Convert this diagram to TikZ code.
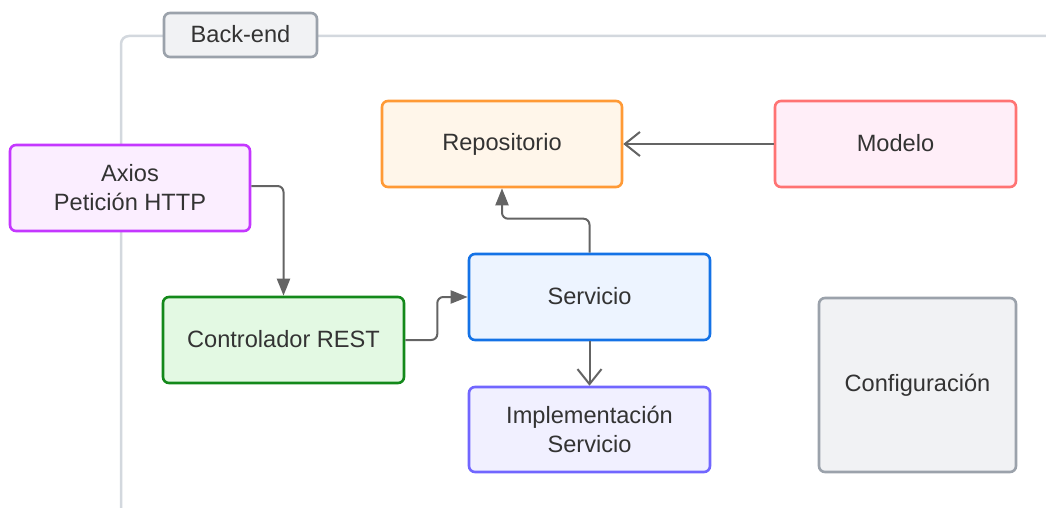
\documentclass[tikz,border=0pt]{standalone}
\usepackage{fontspec}
\setmainfont{Liberation Sans}
\usetikzlibrary{arrows.meta,calc}

\definecolor{framecol}{HTML}{D3D8DE}
\definecolor{grayb}{HTML}{9BA2AB}
\definecolor{grayf}{HTML}{F1F2F4}
\definecolor{orangeb}{HTML}{FF9A36}
\definecolor{orangef}{HTML}{FFF6EA}
\definecolor{pinkb}{HTML}{FF7373}
\definecolor{pinkf}{HTML}{FFEEF8}
\definecolor{purpleb}{HTML}{C437FF}
\definecolor{purplef}{HTML}{FBEEFF}
\definecolor{blueb}{HTML}{1472E6}
\definecolor{bluef}{HTML}{EDF4FF}
\definecolor{greenb}{HTML}{13891A}
\definecolor{greenf}{HTML}{E3F9E3}
\definecolor{indigob}{HTML}{7166FF}
\definecolor{indigof}{HTML}{F1F0FF}
\definecolor{arrowcol}{HTML}{646464}
\definecolor{txt}{HTML}{333333}

\tikzset{
  box/.style={draw, rounded corners=6pt, line width=2.6pt, align=center,
    text=txt, inner sep=0pt, minimum width=241pt, minimum height=86pt,
    font=\fontsize{23.6}{29}\selectfont},
  flow/.style={draw=arrowcol, line width=2pt, rounded corners=6pt,
    -{Triangle[length=17pt,width=13pt]}},
  link/.style={draw=arrowcol, line width=2pt,
    -{Straight Barb[length=15pt,width=24pt,line width=2pt]}},
}

\begin{document}
\begin{tikzpicture}[x=1pt,y=-1pt]
\useasboundingbox (0,0) rectangle (1046,508);

% container frame
\coordinate (fbot) at (121,508);
\coordinate (ftop) at (1046,36);
\draw[framecol, line width=2.5pt, rounded corners=8pt] (fbot) |- (ftop);

% container label
\node[box, draw=grayb, fill=grayf, minimum width=153pt, minimum height=44pt]
  (be) at (240.5,35) {\raisebox{2pt}{Back-end}};

% components
\node[box, draw=orangeb, fill=orangef, minimum width=240pt] (repo) at (502,144) {\raisebox{2pt}{Repositorio}};
\node[box, draw=pinkb, fill=pinkf] (mod) at (895.5,144) {\raisebox{2pt}{Modelo}};
\node[box, draw=purpleb, fill=purplef, minimum width=240pt] (ax) at (130,188) {Axios\\Petición HTTP};
\node[box, draw=blueb, fill=bluef] (svc) at (589.5,297) {\raisebox{2pt}{Servicio}};
\node[box, draw=greenb, fill=greenf] (ctl) at (283.5,340) {\raisebox{2pt}{Controlador REST}};
\node[box, draw=indigob, fill=indigof, minimum height=85pt] (impl) at (589.5,429.5) {Implementación\\Servicio};
\node[box, draw=grayb, fill=grayf, minimum width=197pt, minimum height=174pt] (cfg) at (917.5,385) {\raisebox{2pt}{Configuración}};

% connectors
\draw[flow] ($(ax.east)+(0,-2)$) -| (ctl.north);
\draw[flow] (ctl.east) -- ++(32,0) |- (svc.west);
\draw[flow] (svc.north) -- ++(0,-34) -| (repo.south);
\draw[link] (mod.west) -- (repo.east);
\draw[link] (svc.south) -- (impl.north);
\end{tikzpicture}
\end{document}
